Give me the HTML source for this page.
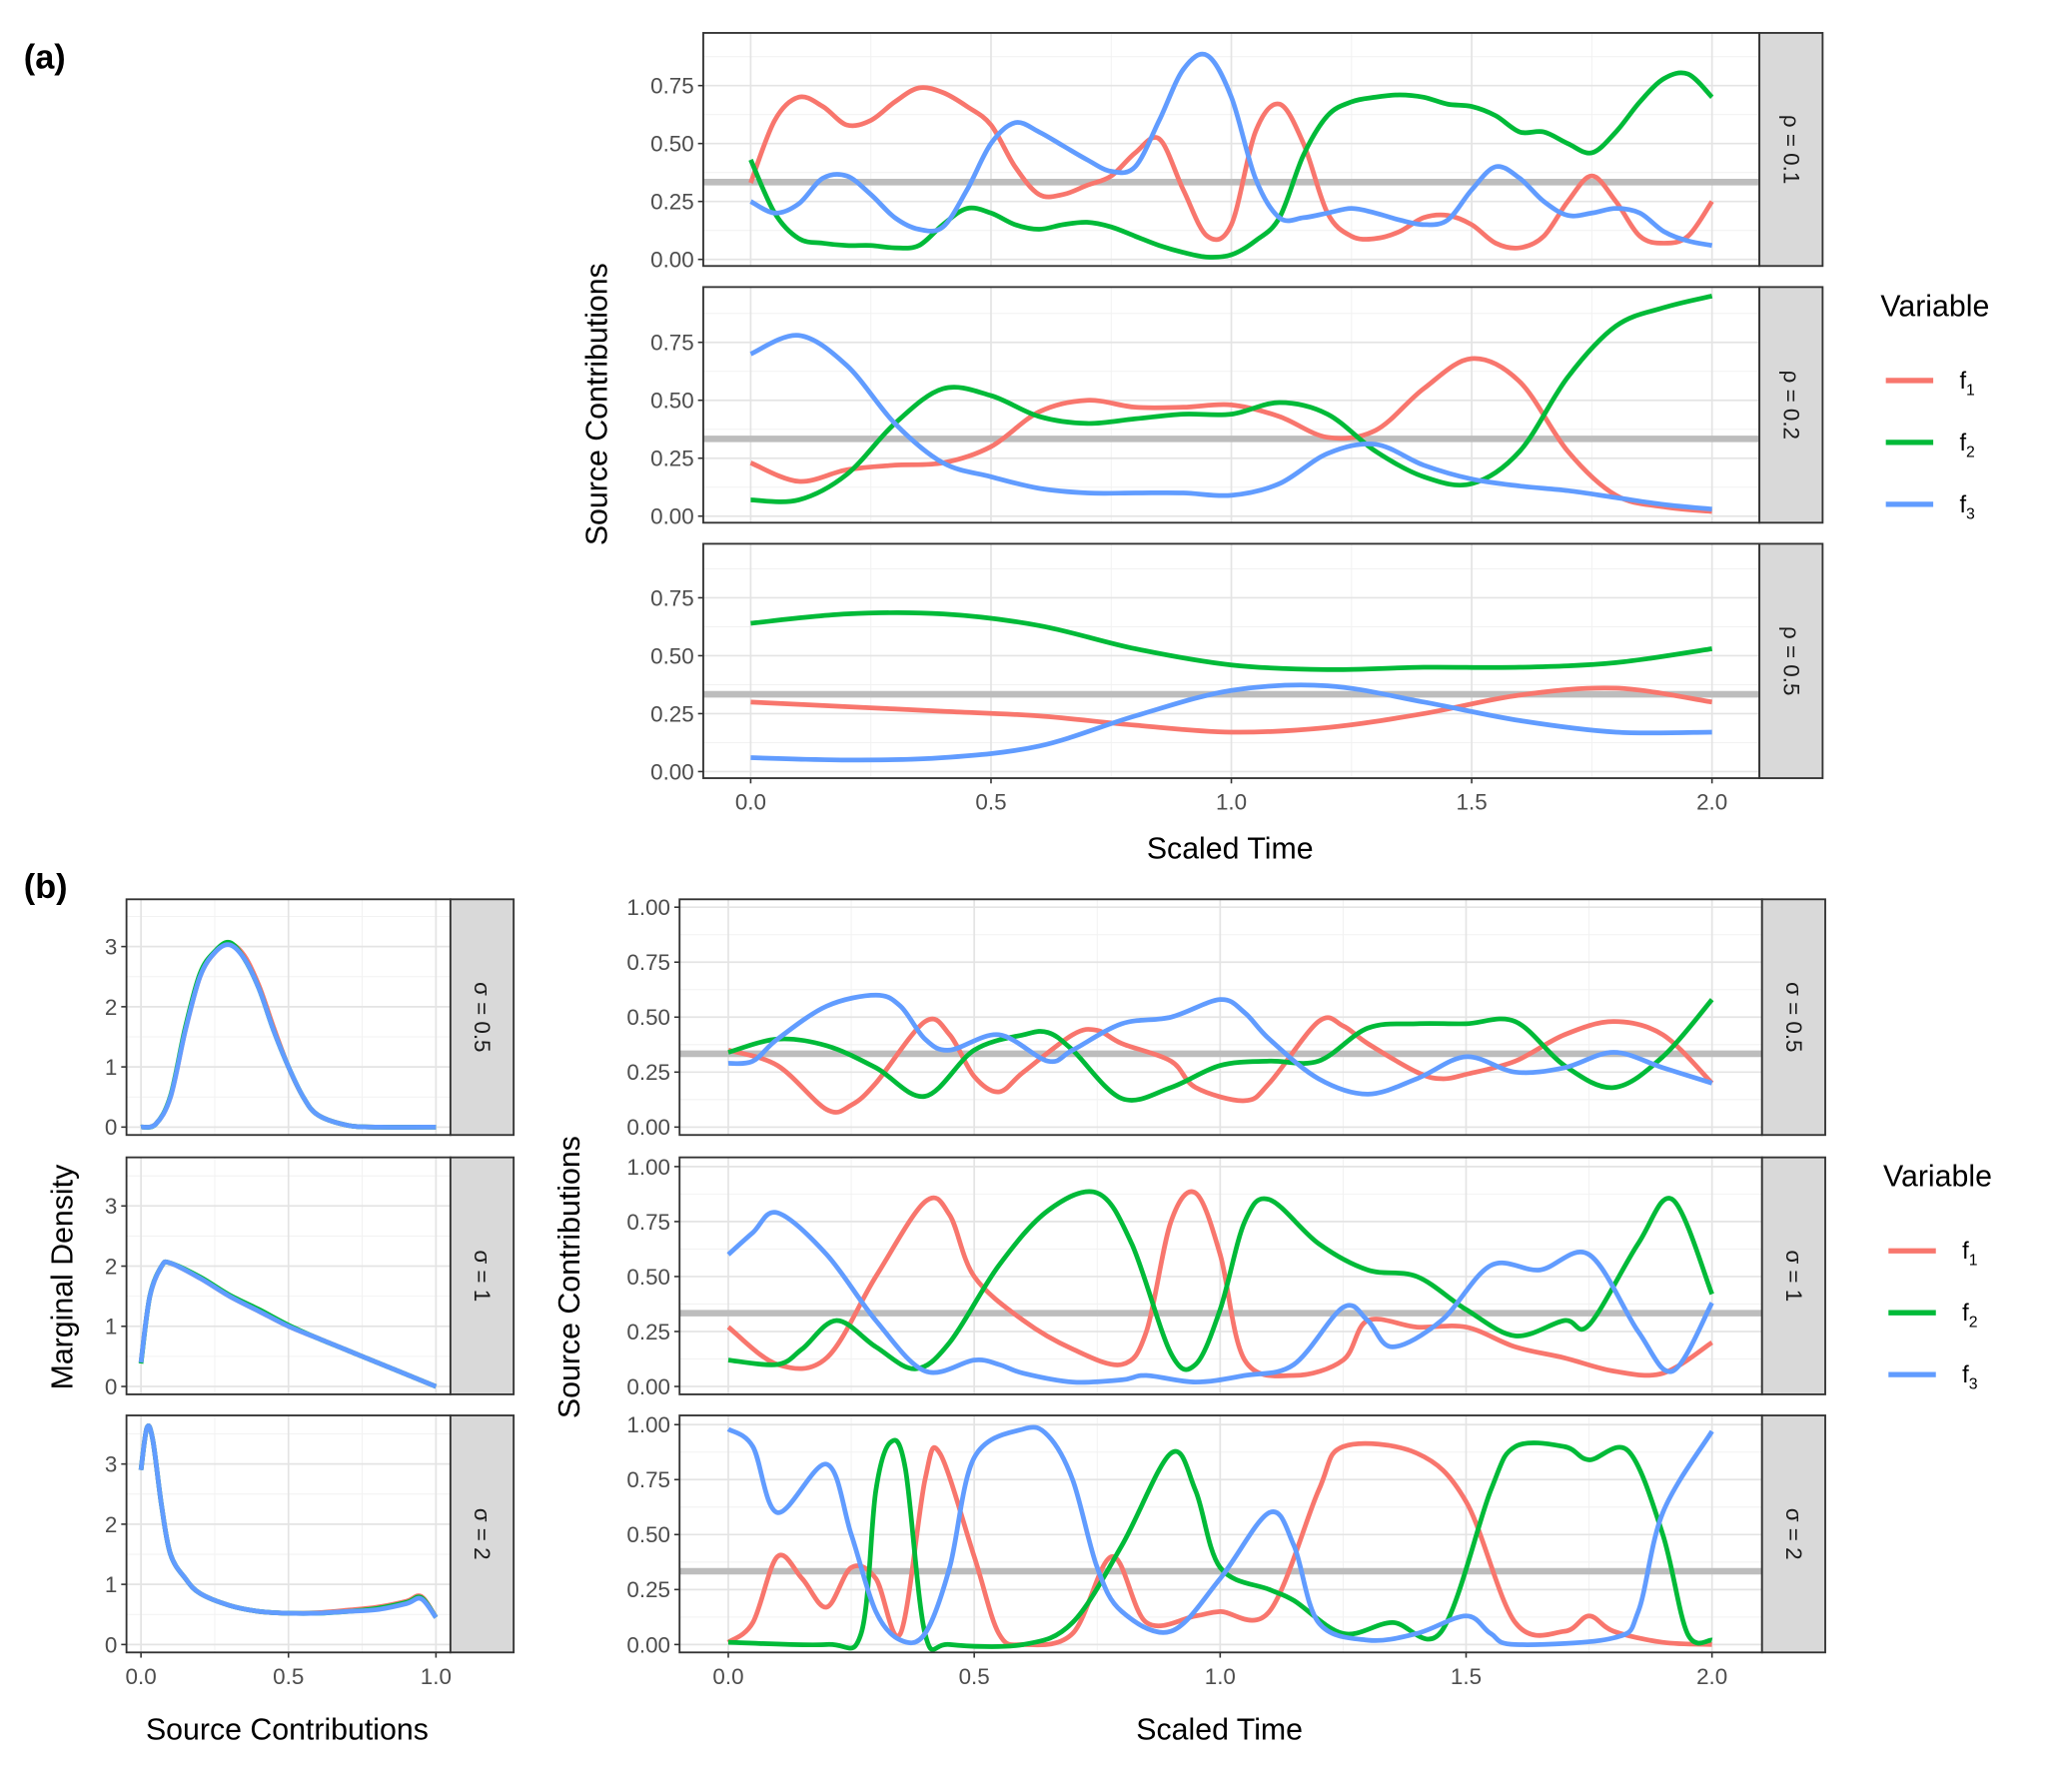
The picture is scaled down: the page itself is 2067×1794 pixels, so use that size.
<!DOCTYPE html>
<html><head><meta charset="utf-8"><style>
html,body{margin:0;padding:0;background:#fff;}
svg{display:block;font-family:"Liberation Sans",sans-serif;}
</style></head><body>
<svg id="fig" width="2067" height="1794" viewBox="0 0 1568 1361" xmlns="http://www.w3.org/2000/svg"></svg>
<script>
// ---------- data ----------
const colors=["#F8766D","#00BA38","#619CFF"];
const seriesNames=["f1","f2","f3"];
// panel (a) rho=0.1
const a1T_f1=[0,0.05,0.1,0.15,0.2,0.25,0.3,0.35,0.4,0.45,0.5,0.55,0.6,0.65,0.7,0.75,0.8,0.85,0.9,0.95,1.0,1.05,1.1,1.15,1.2,1.25,1.3,1.35,1.4,1.45,1.5,1.55,1.6,1.65,1.7,1.75,1.8,1.85,1.9,1.95,2.0];
const a1_f1=[0.33,0.6,0.7,0.66,0.58,0.6,0.68,0.74,0.72,0.66,0.58,0.4,0.28,0.28,0.32,0.36,0.46,0.52,0.3,0.1,0.15,0.55,0.67,0.5,0.2,0.1,0.09,0.12,0.18,0.19,0.15,0.07,0.05,0.1,0.25,0.36,0.25,0.1,0.07,0.1,0.25];
const a1_f2=[0.43,0.2,0.09,0.07,0.06,0.06,0.05,0.06,0.15,0.22,0.2,0.15,0.13,0.15,0.16,0.14,0.1,0.06,0.03,0.01,0.02,0.08,0.18,0.45,0.62,0.68,0.7,0.71,0.7,0.67,0.66,0.62,0.55,0.55,0.5,0.46,0.55,0.68,0.78,0.8,0.7];
const a1_f3=[0.25,0.2,0.24,0.35,0.36,0.28,0.18,0.13,0.14,0.3,0.5,0.59,0.55,0.49,0.43,0.38,0.4,0.6,0.82,0.88,0.7,0.35,0.18,0.18,0.2,0.22,0.2,0.17,0.15,0.17,0.3,0.4,0.35,0.25,0.19,0.2,0.22,0.2,0.12,0.08,0.06];
// panel (a) rho=0.2
const a2T=[0,0.1,0.2,0.3,0.4,0.5,0.6,0.7,0.8,0.9,1.0,1.1,1.2,1.3,1.4,1.5,1.6,1.7,1.8,1.9,2.0];
const a2_f1=[0.23,0.15,0.2,0.22,0.23,0.3,0.45,0.5,0.47,0.47,0.48,0.43,0.34,0.37,0.55,0.68,0.58,0.28,0.09,0.04,0.02];
const a2_f2=[0.07,0.07,0.18,0.4,0.55,0.52,0.43,0.4,0.42,0.44,0.44,0.49,0.44,0.28,0.17,0.14,0.28,0.6,0.82,0.9,0.95];
const a2_f3=[0.7,0.78,0.65,0.4,0.23,0.17,0.12,0.1,0.1,0.1,0.09,0.14,0.27,0.31,0.22,0.16,0.13,0.11,0.08,0.05,0.03];
// panel (a) rho=0.5
const a3T=[0,0.2,0.4,0.6,0.8,1.0,1.2,1.4,1.6,1.8,2.0];
const a3_f1=[0.3,0.28,0.26,0.24,0.2,0.17,0.19,0.25,0.33,0.36,0.3];
const a3_f2=[0.64,0.68,0.68,0.63,0.53,0.46,0.44,0.45,0.45,0.47,0.53];
const a3_f3=[0.06,0.05,0.06,0.11,0.24,0.35,0.37,0.3,0.22,0.17,0.17];
// panel (b) sigma=0.5
const b1T_f1=[0,0.1,0.2,0.25,0.3,0.4,0.45,0.5,0.55,0.6,0.7,0.75,0.8,0.9,0.95,1.05,1.1,1.2,1.25,1.3,1.4,1.45,1.5,1.6,1.7,1.8,1.9,2.0];
const b1_f1=[0.35,0.28,0.08,0.1,0.2,0.48,0.42,0.23,0.16,0.25,0.42,0.44,0.38,0.3,0.18,0.12,0.2,0.48,0.46,0.38,0.25,0.22,0.24,0.3,0.42,0.48,0.42,0.2];
const b1T_f2=[0,0.1,0.2,0.3,0.4,0.5,0.6,0.65,0.7,0.8,0.9,1.0,1.1,1.2,1.3,1.4,1.5,1.6,1.7,1.8,1.9,2.0];
const b1_f2=[0.34,0.4,0.37,0.27,0.14,0.35,0.42,0.43,0.35,0.13,0.18,0.28,0.3,0.3,0.45,0.47,0.47,0.48,0.28,0.18,0.32,0.58];
const b1T_f3=[0,0.05,0.1,0.2,0.3,0.35,0.4,0.45,0.55,0.65,0.7,0.8,0.9,1.0,1.05,1.1,1.2,1.3,1.4,1.5,1.6,1.7,1.8,1.9,2.0];
const b1_f3=[0.29,0.3,0.4,0.55,0.6,0.55,0.4,0.35,0.42,0.3,0.35,0.47,0.5,0.58,0.52,0.4,0.22,0.15,0.22,0.32,0.25,0.27,0.34,0.27,0.2];
// panel (b) sigma=1
const b2T_f1=[0,0.1,0.2,0.3,0.4,0.45,0.5,0.6,0.7,0.8,0.85,0.9,0.95,1.0,1.05,1.15,1.25,1.3,1.4,1.5,1.6,1.7,1.8,1.9,2.0];
const b2_f1=[0.27,0.1,0.13,0.5,0.84,0.78,0.5,0.3,0.17,0.1,0.25,0.75,0.88,0.6,0.12,0.05,0.12,0.3,0.27,0.27,0.18,0.13,0.07,0.06,0.2];
const b2T_f2=[0,0.1,0.15,0.22,0.3,0.38,0.45,0.55,0.65,0.75,0.82,0.9,0.95,1.0,1.05,1.1,1.2,1.3,1.4,1.5,1.6,1.7,1.75,1.85,1.92,2.0];
const b2_f2=[0.12,0.1,0.17,0.3,0.18,0.08,0.2,0.55,0.8,0.88,0.65,0.15,0.1,0.35,0.75,0.85,0.65,0.53,0.5,0.35,0.23,0.3,0.28,0.65,0.85,0.42];
const b2T_f3=[0,0.05,0.1,0.2,0.3,0.4,0.5,0.55,0.6,0.7,0.8,0.85,0.95,1.05,1.15,1.25,1.3,1.35,1.45,1.55,1.65,1.75,1.85,1.92,2.0];
const b2_f3=[0.6,0.7,0.79,0.6,0.3,0.07,0.12,0.1,0.06,0.02,0.03,0.05,0.02,0.05,0.1,0.36,0.3,0.18,0.3,0.55,0.53,0.6,0.25,0.07,0.38];
// panel (b) sigma=2
const b3T_f1=[0,0.05,0.1,0.15,0.2,0.25,0.3,0.35,0.4,0.43,0.5,0.55,0.6,0.7,0.78,0.85,0.95,1.0,1.1,1.2,1.25,1.4,1.5,1.6,1.7,1.75,1.8,1.9,2.0];
const b3_f1=[0.01,0.1,0.4,0.3,0.17,0.35,0.3,0.05,0.75,0.87,0.4,0.05,0.0,0.05,0.4,0.1,0.13,0.15,0.15,0.7,0.9,0.87,0.65,0.1,0.06,0.13,0.06,0.01,0.0];
const b3T_f2=[0,0.2,0.27,0.3,0.33,0.36,0.4,0.45,0.6,0.7,0.8,0.9,0.95,1.0,1.1,1.15,1.25,1.35,1.45,1.55,1.6,1.7,1.75,1.83,1.9,1.95,2.0];
const b3_f2=[0.01,0.0,0.05,0.7,0.92,0.8,0.05,0.0,0.0,0.1,0.45,0.87,0.7,0.35,0.25,0.2,0.05,0.1,0.06,0.7,0.9,0.9,0.84,0.88,0.5,0.05,0.02];
const b3T_f3=[0,0.05,0.1,0.2,0.25,0.3,0.35,0.4,0.45,0.5,0.6,0.65,0.7,0.75,0.8,0.9,1.0,1.1,1.15,1.2,1.3,1.4,1.5,1.55,1.6,1.8,1.85,1.9,2.0];
const b3_f3=[0.98,0.9,0.6,0.82,0.5,0.15,0.02,0.05,0.35,0.85,0.98,0.95,0.75,0.35,0.15,0.06,0.3,0.6,0.45,0.1,0.02,0.05,0.13,0.05,0.0,0.03,0.15,0.6,0.97];
// densities
const d1X=[0,0.05,0.1,0.15,0.2,0.25,0.3,0.35,0.4,0.45,0.5,0.55,0.6,0.7,0.8,1.0];
const d1_f1=[0,0.05,0.5,1.6,2.5,2.9,3.05,2.85,2.35,1.65,1.0,0.5,0.2,0.03,0,0];
const d1_f2=[0,0.05,0.52,1.65,2.55,2.92,3.07,2.8,2.3,1.6,1.0,0.5,0.2,0.03,0,0];
const d1_f3=[0,0.05,0.5,1.6,2.5,2.9,3.03,2.8,2.3,1.6,1.0,0.5,0.2,0.03,0,0];
const d2X=[0,0.03,0.07,0.1,0.2,0.3,0.4,0.5,0.6,0.7,0.8,0.9,1.0];
const d2_f1=[0.4,1.5,2.0,2.05,1.8,1.5,1.25,1.0,0.8,0.6,0.4,0.2,0.0];
const d2_f2=[0.38,1.5,2.0,2.05,1.82,1.52,1.28,1.02,0.8,0.6,0.4,0.2,0.0];
const d2_f3=[0.4,1.5,2.0,2.05,1.8,1.5,1.25,1.0,0.8,0.6,0.4,0.2,0.0];
const d3X=[0,0.02,0.04,0.07,0.1,0.15,0.2,0.3,0.4,0.5,0.6,0.7,0.8,0.9,0.95,1.0];
const d3_f1=[2.9,3.6,3.4,2.3,1.5,1.1,0.85,0.65,0.55,0.52,0.53,0.57,0.62,0.72,0.8,0.45];
const d3_f2=[2.9,3.6,3.4,2.3,1.5,1.1,0.85,0.65,0.55,0.52,0.52,0.55,0.6,0.7,0.78,0.45];
const d3_f3=[2.9,3.6,3.4,2.3,1.5,1.1,0.85,0.65,0.55,0.52,0.52,0.55,0.58,0.68,0.76,0.45];
const ticksTime=[0,0.5,1.0,1.5,2.0];
const tickTimeLabels=["0.0","0.5","1.0","1.5","2.0"];
const ticksA=[0,0.25,0.5,0.75];
const ticksB=[0,0.25,0.5,0.75,1.0];
const ticksLabelsB=["0.00","0.25","0.50","0.75","1.00"];
const ticksD=[0,1,2,3];
const ticksDX=[0,0.5,1.0];
const ticksDXLabels=["0.0","0.5","1.0"];

// ---------- drawing ----------
const NS="http://www.w3.org/2000/svg";
const svg=document.getElementById('fig');
function el(tag,attrs,parent,text){const e=document.createElementNS(NS,tag);for(const k in attrs)e.setAttribute(k,attrs[k]);if(text!==undefined)e.textContent=text;(parent||svg).appendChild(e);return e;}
function pathD(xs,ys,sx,sy){
  const P=xs.map((x,i)=>[sx(x),sy(ys[i])]);
  let d="M"+P[0][0].toFixed(2)+","+P[0][1].toFixed(2);
  for(let i=0;i<P.length-1;i++){
    const p0=P[Math.max(0,i-1)],p1=P[i],p2=P[i+1],p3=P[Math.min(P.length-1,i+2)];
    const c1=[p1[0]+(p2[0]-p0[0])/6,p1[1]+(p2[1]-p0[1])/6];
    const c2=[p2[0]-(p3[0]-p1[0])/6,p2[1]-(p3[1]-p1[1])/6];
    d+=" C"+c1.map(v=>v.toFixed(2)).join(",")+" "+c2.map(v=>v.toFixed(2)).join(",")+" "+p2[0].toFixed(2)+","+p2[1].toFixed(2);
  }
  return d;
}
function panel(o){
  const g=el('g',{});
  
  
  const sx=v=>o.x0+(v-o.xmin)/(o.xmax-o.xmin)*(o.x1-o.x0);
  const sy=v=>o.y1-(v-o.ymin)/(o.ymax-o.ymin)*(o.y1-o.y0);
  el('rect',{x:o.x0,y:o.y0,width:o.x1-o.x0,height:o.y1-o.y0,fill:'#fff'},g);
  o.xMinor.forEach(v=>el('line',{x1:sx(v),x2:sx(v),y1:o.y0,y2:o.y1,stroke:'#f2f2f2','stroke-width':0.8},g));
  o.yMinor.forEach(v=>el('line',{x1:o.x0,x2:o.x1,y1:sy(v),y2:sy(v),stroke:'#f2f2f2','stroke-width':0.8},g));
  o.xMajor.forEach(v=>el('line',{x1:sx(v),x2:sx(v),y1:o.y0,y2:o.y1,stroke:'#e4e4e4','stroke-width':1.3},g));
  o.yTicks.forEach(v=>el('line',{x1:o.x0,x2:o.x1,y1:sy(v),y2:sy(v),stroke:'#e4e4e4','stroke-width':1.3},g));
  if(o.hline!==undefined) el('line',{x1:o.x0,x2:o.x1,y1:sy(o.hline),y2:sy(o.hline),stroke:'#bdbdbd','stroke-width':5},g);
  o.series.forEach((s,i)=>{
    const p=el('path',{d:pathD(s[0],s[1],sx,sy),fill:'none',stroke:colors[i],'stroke-width':3.6,'stroke-linejoin':'round','stroke-linecap':'butt'},g);
    
    
  });
  el('rect',{x:o.x0,y:o.y0,width:o.x1-o.x0,height:o.y1-o.y0,fill:'none',stroke:'#333','stroke-width':1.4},g);
  o.yTicks.forEach((v,i)=>{
    el('line',{x1:o.x0-4,x2:o.x0,y1:sy(v),y2:sy(v),stroke:'#333','stroke-width':1.2},g);
    const t=el('text',{x:o.x0-7,y:sy(v)+6,'text-anchor':'end','font-size':17,fill:'#4d4d4d'},g,o.yLabels[i]);
    
    
  });
  if(o.xLabels){
    o.xMajor.forEach((v,i)=>{
      el('line',{x1:sx(v),x2:sx(v),y1:o.y1,y2:o.y1+4,stroke:'#333','stroke-width':1.2},g);
      const t=el('text',{x:sx(v),y:o.y1+24,'text-anchor':'middle','font-size':17,fill:'#4d4d4d'},g,o.xLabels[i]);
      
      
    });
  }
  const sw=48;
  el('rect',{x:o.x1,y:o.y0,width:sw,height:o.y1-o.y0,fill:'#d9d9d9',stroke:'#333','stroke-width':1.4},g);
  const cx=o.x1+sw/2, cy=(o.y0+o.y1)/2;
  const st=el('text',{x:cx,y:cy,'text-anchor':'middle','dominant-baseline':'central','font-size':17,fill:'#1a1a1a',transform:`rotate(90 ${cx} ${cy})`},g,o.strip);
  
  
}
const aMinY=[0.125,0.375,0.625,0.875], tMinor=[0.25,0.75,1.25,1.75];
const aL=["0.00","0.25","0.50","0.75"];
function mkA(y0,y1,strip,series,name,xl){
  const ymin=-5/176, ymax=(y1-y0-5)/176;
  panel({name,x0:534,x1:1336,y0,y1,xmin:-36/365,xmax:2+36/365,ymin,ymax,
    xMajor:ticksTime,xMinor:tMinor,yTicks:ticksA,yLabels:aL,yMinor:aMinY,hline:1/3,strip,series,xLabels:xl});
}
mkA(25,202,"ρ = 0.1",[[a1T_f1,a1_f1],[a1T_f1,a1_f2],[a1T_f1,a1_f3]],"panel-a-rho-0.1",null);
mkA(218,397,"ρ = 0.2",[[a2T,a2_f1],[a2T,a2_f2],[a2T,a2_f3]],"panel-a-rho-0.2",null);
mkA(413,591,"ρ = 0.5",[[a3T,a3_f1],[a3T,a3_f2],[a3T,a3_f3]],"panel-a-rho-0.5",tickTimeLabels);
function mkB(y0,y1,strip,series,name,xl){
  const ymin=-6/167, ymax=(y1-y0-6)/167;
  panel({name,x0:516,x1:1338,y0,y1,xmin:-37/373.5,xmax:(1338-553)/373.5,ymin,ymax,
    xMajor:ticksTime,xMinor:tMinor,yTicks:ticksB,yLabels:ticksLabelsB,yMinor:[0.125,0.375,0.625,0.875],hline:1/3,strip,series,xLabels:xl});
}
mkB(683,862,"σ = 0.5",[[b1T_f1,b1_f1],[b1T_f2,b1_f2],[b1T_f3,b1_f3]],"panel-b-sigma-0.5",null);
mkB(879,1059,"σ = 1",[[b2T_f1,b2_f1],[b2T_f2,b2_f2],[b2T_f3,b2_f3]],"panel-b-sigma-1",null);
mkB(1075,1255,"σ = 2",[[b3T_f1,b3_f1],[b3T_f2,b3_f2],[b3T_f3,b3_f3]],"panel-b-sigma-2",tickTimeLabels);
function mkD(y0,y1,strip,series,name,xl){
  const ymin=-6/45.7, ymax=(y1-y0-6)/45.7;
  panel({name,x0:96,x1:342,y0,y1,xmin:-11/224,xmax:(342-107)/224,ymin,ymax,
    xMajor:ticksDX,xMinor:[0.25,0.75],yTicks:ticksD,yLabels:["0","1","2","3"],yMinor:[0.5,1.5,2.5,3.5],strip,series,xLabels:xl});
}
mkD(683,862,"σ = 0.5",[[d1X,d1_f1],[d1X,d1_f2],[d1X,d1_f3]],"density-sigma-0.5",null);
mkD(879,1059,"σ = 1",[[d2X,d2_f1],[d2X,d2_f2],[d2X,d2_f3]],"density-sigma-1",null);
mkD(1075,1255,"σ = 2",[[d3X,d3_f1],[d3X,d3_f2],[d3X,d3_f3]],"density-sigma-2",ticksDXLabels);

function txt(name,x,y,s,size,extra){const t=el('text',Object.assign({x,y,'font-size':size,fill:'#000','text-anchor':'middle'},extra||{}),svg,s);return t;}
txt('panel-a-label',18,52,'(a)',26,{'text-anchor':'start','font-weight':'bold'});
txt('panel-b-label',18,682,'(b)',26,{'text-anchor':'start','font-weight':'bold'});
txt('y-axis-title-a',461,307,'Source Contributions',23,{transform:'rotate(-90 461 307)'});
txt('x-axis-title-a',934,652,'Scaled Time',23);
txt('y-axis-title-b',440,970,'Source Contributions',23,{transform:'rotate(-90 440 970)'});
txt('x-axis-title-b',926,1321,'Scaled Time',23);
txt('y-axis-title-density',55,970,'Marginal Density',23,{transform:'rotate(-90 55 970)'});
txt('x-axis-title-density',218,1321,'Source Contributions',23);
function legend(x,y,name){
  const g=el('g',{});
  el('text',{x:x,y:y,'font-size':23,fill:'#000'},g,'Variable');
  [0,1,2].forEach(i=>{
    const yy=y+49+i*47;
    const l=el('line',{x1:x+4,x2:x+40,y1:yy,y2:yy,stroke:colors[i],'stroke-width':4},g);
    
    
    const t=el('text',{x:x+60,y:yy+6,'font-size':18,fill:'#000'},g);
    
    
    t.appendChild(document.createTextNode('f'));
    el('tspan',{'font-size':12,dy:5},t,String(i+1));
  });
}
legend(1428,240,'legend-a');
legend(1430,901,'legend-b');
</script>
</body></html>
